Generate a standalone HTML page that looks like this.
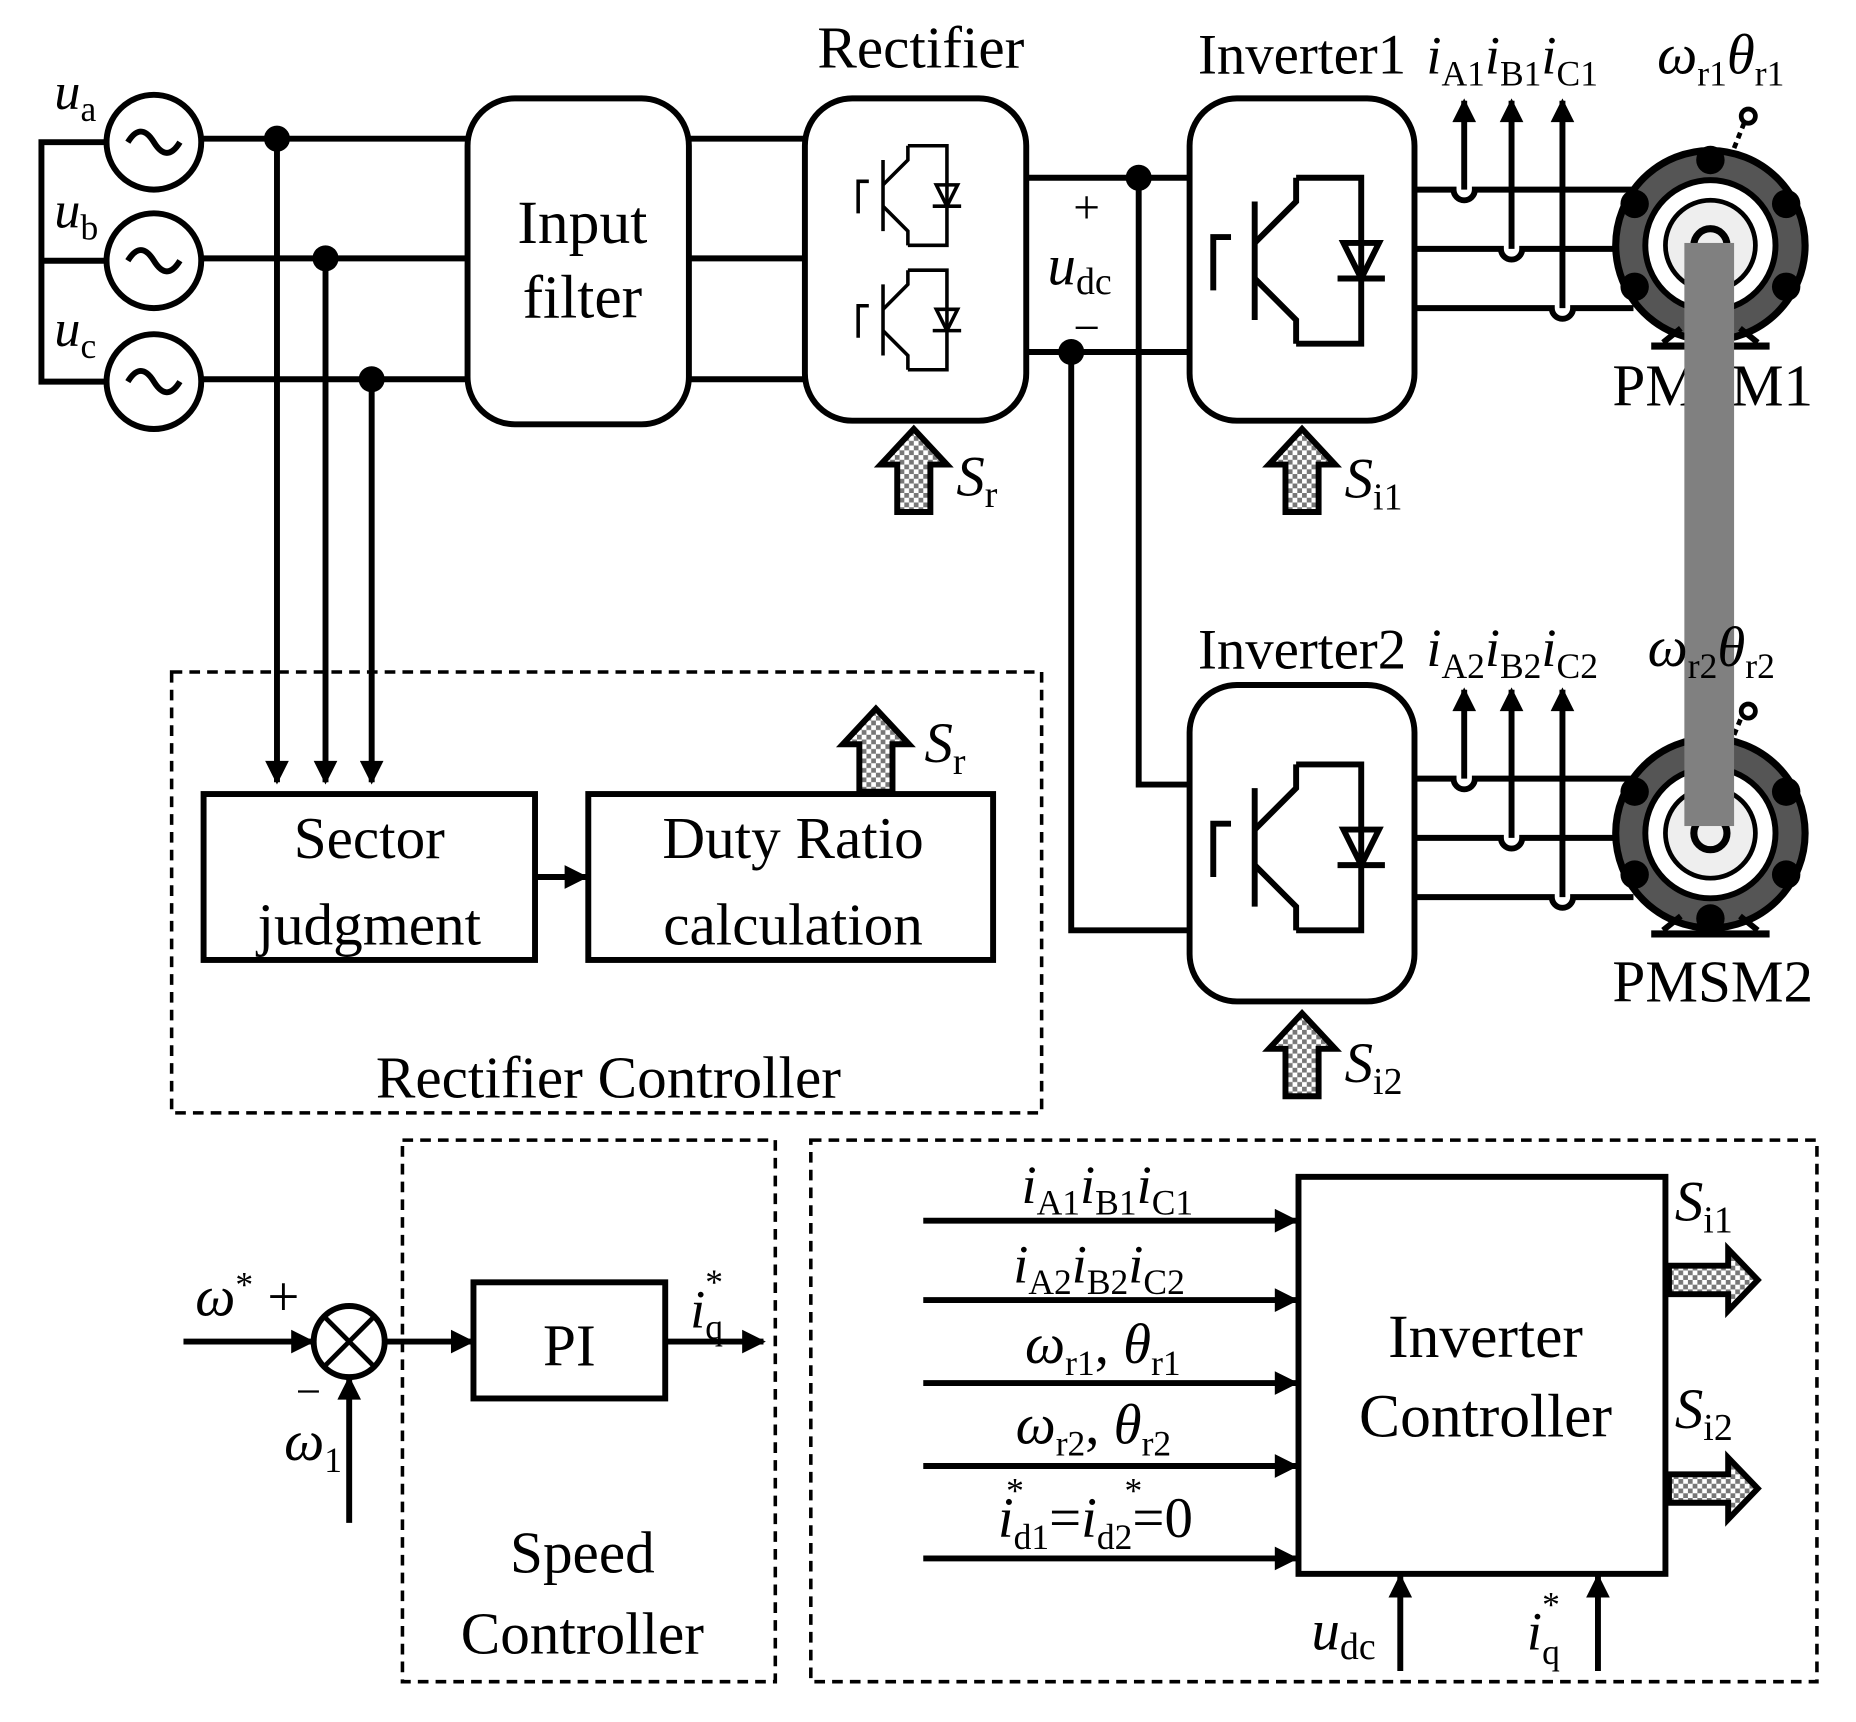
<!DOCTYPE html>
<html><head><meta charset="utf-8"><style>
html,body{margin:0;padding:0;background:#fff}
svg{display:block}
text{font-family:"Liberation Serif",serif;fill:#000}
.i{font-style:italic}
</style></head><body>
<svg width="1856" height="1722" viewBox="0 0 1568 1453" preserveAspectRatio="none" xmlns="http://www.w3.org/2000/svg">
<defs>
<pattern id="ck" width="8" height="8" patternUnits="userSpaceOnUse">
<rect width="8" height="8" fill="#fff"/><rect width="4" height="4" fill="#777"/><rect x="4" y="4" width="4" height="4" fill="#777"/>
</pattern>
<marker id="a2" viewBox="0 0 10 10" refX="9" refY="5" markerWidth="24" markerHeight="20" markerUnits="userSpaceOnUse" orient="auto">
<path d="M0,0 L10,5 L0,10 z" fill="#000"/></marker>
<g id="upck"><path d="M-14,0 L-14,-40 L-28,-40 L0,-70 L28,-40 L14,-40 L14,0 Z" fill="url(#ck)" stroke="#000" stroke-width="5"/></g>
<g id="rtck"><path d="M0,-12 L50,-12 L50,-26 L75,0 L50,26 L50,12 L0,12 Z" fill="url(#ck)" stroke="#000" stroke-width="5"/></g>
<g id="igbt" stroke="#000" stroke-width="5" fill="none">
<path d="M-40,-50 L-40,50"/><path d="M-60,-20 L-75,-20 L-75,25"/>
<path d="M-40,-15 L-5,-50 L-5,-70 M-40,15 L-5,50 L-5,70"/>
<path d="M-5,-70 L50,-70 L50,70 L-5,70"/>
<path d="M30,15 L70,15 M35,-15 L65,-15 L50,15 Z"/>
</g>
<g id="motor">
<circle r="80" fill="#555" stroke="#000" stroke-width="6"/>
<circle r="55" fill="#fff" stroke="#000" stroke-width="5"/>
<circle r="38" fill="#eee" stroke="#000" stroke-width="4"/>
<circle r="14" fill="none" stroke="#000" stroke-width="6"/>
<circle cx="0" cy="-72" r="12"/><circle cx="0" cy="72" r="12"/>
<circle cx="-64" cy="-35" r="12"/><circle cx="64" cy="-35" r="12"/>
<circle cx="-64" cy="35" r="12"/><circle cx="64" cy="35" r="12"/>
<path d="M-50,85 L50,85" stroke="#000" stroke-width="6"/>
<path d="M-40,82 L-25,70 M40,82 L25,70" stroke="#000" stroke-width="5"/>
</g>
</defs>

<g stroke="#000" stroke-width="5" fill="none">
<path d="M90,120 L35,120 L35,322 L90,322 M35,220 L90,220"/>
<circle cx="130" cy="120" r="40"/><circle cx="130" cy="220" r="40"/><circle cx="130" cy="322" r="40"/>
<path d="M108,120 q11,-18 22,0 t22,0 M108,220 q11,-18 22,0 t22,0 M108,322 q11,-18 22,0 t22,0"/>
<path d="M170,117 L395,117 M170,218 L395,218 M170,320 L395,320"/>
<path d="M234,117 L234,660" marker-end="url(#a2)"/>
<path d="M275,218 L275,660" marker-end="url(#a2)"/>
<path d="M314,320 L314,660" marker-end="url(#a2)"/>
<rect x="395" y="83" width="187" height="275" rx="40"/>
<path d="M582,117 L680,117 M582,218 L680,218 M582,320 L680,320"/>
<rect x="680" y="83" width="187" height="272" rx="40"/>
<path d="M867,150 L1005,150 M867,297 L1005,297"/>
<path d="M962,150 L962,662 L1005,662 M905,297 L905,785 L1005,785"/>
<rect x="1005" y="83" width="190" height="272" rx="40"/>
<rect x="1005" y="578" width="190" height="267" rx="40"/>
<path d="M1195,160 L1228,160 a9,9 0 0 0 18,0 L1380,160 M1195,210 L1268,210 a9,9 0 0 0 18,0 L1380,210 M1195,260 L1311,260 a9,9 0 0 0 18,0 L1380,260"/>
<path d="M1237,160 L1237,85" marker-end="url(#a2)"/>
<path d="M1277,210 L1277,85" marker-end="url(#a2)"/>
<path d="M1320,260 L1320,85" marker-end="url(#a2)"/>
<path d="M1195,657 L1228,657 a9,9 0 0 0 18,0 L1380,657 M1195,707 L1268,707 a9,9 0 0 0 18,0 L1380,707 M1195,757 L1311,757 a9,9 0 0 0 18,0 L1380,757"/>
<path d="M1237,657 L1237,582" marker-end="url(#a2)"/>
<path d="M1277,707 L1277,582" marker-end="url(#a2)"/>
<path d="M1320,757 L1320,582" marker-end="url(#a2)"/>
</g>
<g fill="#000"><circle cx="234" cy="117" r="11"/><circle cx="275" cy="218" r="11"/><circle cx="314" cy="320" r="11"/><circle cx="962" cy="150" r="11"/><circle cx="905" cy="297" r="11"/></g>
<use href="#igbt" transform="translate(770,165) scale(0.6)"/>
<use href="#igbt" transform="translate(770,270) scale(0.6)"/>
<use href="#igbt" transform="translate(1100,220)"/>
<use href="#igbt" transform="translate(1100,715)"/>
<use href="#motor" transform="translate(1445,207)"/>
<use href="#motor" transform="translate(1445,703)"/>
<path d="M1465,125 L1475,100 M1465,620 L1475,596" stroke="#000" stroke-width="4" stroke-dasharray="5,4"/>
<circle cx="1477" cy="98" r="6" fill="#fff" stroke="#000" stroke-width="4"/>
<circle cx="1477" cy="600" r="6" fill="#fff" stroke="#000" stroke-width="4"/>
<text x="1447" y="342" font-size="50" text-anchor="middle">PMSM1</text>
<text x="1447" y="845" font-size="50" text-anchor="middle">PMSM2</text>
<rect x="1423" y="205" width="42" height="492" fill="#808080"/>

<use href="#upck" transform="translate(772,432)"/>
<use href="#upck" transform="translate(1100,432)"/>
<use href="#upck" transform="translate(1100,925)"/>
<use href="#upck" transform="translate(740,668)"/>
<use href="#rtck" transform="translate(1410,1080)"/>
<use href="#rtck" transform="translate(1410,1256)"/>

<text x="46" y="92" font-size="44" class="i">u<tspan font-size="30" dy="10" font-style="normal">a</tspan></text>
<text x="46" y="192" font-size="44" class="i">u<tspan font-size="30" dy="10" font-style="normal">b</tspan></text>
<text x="46" y="292" font-size="44" class="i">u<tspan font-size="30" dy="10" font-style="normal">c</tspan></text>
<text x="492" y="205" font-size="52" text-anchor="middle">Input</text>
<text x="492" y="268" font-size="52" text-anchor="middle">filter</text>
<text x="778" y="57" font-size="50" text-anchor="middle">Rectifier</text>
<text x="1100" y="62" font-size="48" text-anchor="middle">Inverter1</text>
<text x="1100" y="564" font-size="48" text-anchor="middle">Inverter2</text>
<text x="918" y="188" font-size="40" text-anchor="middle">+</text>
<text x="885" y="240" font-size="48" class="i">u<tspan font-size="32" dy="8" font-style="normal">dc</tspan></text>
<text x="918" y="290" font-size="40" text-anchor="middle">−</text>
<text x="808" y="418" font-size="48" class="i">S<tspan font-size="32" dy="10" font-style="normal">r</tspan></text>
<text x="1136" y="420" font-size="48" class="i">S<tspan font-size="32" dy="10" font-style="normal">i1</tspan></text>
<text x="1136" y="913" font-size="48" class="i">S<tspan font-size="32" dy="10" font-style="normal">i2</tspan></text>
<text x="1205" y="62" font-size="46" class="i">i<tspan font-size="30" dy="10" font-style="normal">A1</tspan><tspan dy="-10">i</tspan><tspan font-size="30" dy="10" font-style="normal">B1</tspan><tspan dy="-10">i</tspan><tspan font-size="30" dy="10" font-style="normal">C1</tspan></text>
<text x="1205" y="562" font-size="46" class="i">i<tspan font-size="30" dy="10" font-style="normal">A2</tspan><tspan dy="-10">i</tspan><tspan font-size="30" dy="10" font-style="normal">B2</tspan><tspan dy="-10">i</tspan><tspan font-size="30" dy="10" font-style="normal">C2</tspan></text>
<text x="1400" y="62" font-size="48" class="i">ω<tspan font-size="30" dy="10" font-style="normal">r1</tspan><tspan dy="-10">θ</tspan><tspan font-size="30" dy="10" font-style="normal">r1</tspan></text>
<text x="1392" y="562" font-size="48" class="i">ω<tspan font-size="30" dy="10" font-style="normal">r2</tspan><tspan dy="-10">θ</tspan><tspan font-size="30" dy="10" font-style="normal">r2</tspan></text>

<g stroke="#000" stroke-width="3" fill="none" stroke-dasharray="9,6">
<rect x="145" y="567" width="735" height="372"/>
<rect x="340" y="962" width="315" height="457"/>
<rect x="685" y="962" width="850" height="457"/>
</g>
<g stroke="#000" stroke-width="5" fill="none">
<rect x="172" y="670" width="280" height="140"/>
<rect x="497" y="670" width="342" height="140"/>
<path d="M452,740 L495,740" marker-end="url(#a2)"/>
<rect x="400" y="1082" width="162" height="98"/>
<circle cx="295" cy="1132" r="30"/>
<path d="M274,1111 L316,1153 M316,1111 L274,1153" stroke-width="4"/>
<path d="M155,1132 L264,1132" marker-end="url(#a2)"/>
<path d="M325,1132 L399,1132" marker-end="url(#a2)"/>
<path d="M562,1132 L645,1132" marker-end="url(#a2)"/>
<path d="M295,1285 L295,1163" marker-end="url(#a2)"/>
<rect x="1097" y="993" width="310" height="335"/>
<path d="M780,1030 L1095,1030" marker-end="url(#a2)"/>
<path d="M780,1097 L1095,1097" marker-end="url(#a2)"/>
<path d="M780,1167 L1095,1167" marker-end="url(#a2)"/>
<path d="M780,1237 L1095,1237" marker-end="url(#a2)"/>
<path d="M780,1315 L1095,1315" marker-end="url(#a2)"/>
<path d="M1183,1410 L1183,1330" marker-end="url(#a2)"/>
<path d="M1350,1410 L1350,1330" marker-end="url(#a2)"/>
</g>
<text x="312" y="724" font-size="50" text-anchor="middle">Sector</text>
<text x="312" y="797" font-size="50" text-anchor="middle">judgment</text>
<text x="670" y="724" font-size="50" text-anchor="middle">Duty Ratio</text>
<text x="670" y="797" font-size="50" text-anchor="middle">calculation</text>
<text x="514" y="926" font-size="50" text-anchor="middle">Rectifier Controller</text>
<text x="781" y="643" font-size="48" class="i">S<tspan font-size="32" dy="10" font-style="normal">r</tspan></text>
<text x="481" y="1152" font-size="50" text-anchor="middle">PI</text>
<text x="492" y="1327" font-size="50" text-anchor="middle">Speed</text>
<text x="492" y="1395" font-size="50" text-anchor="middle">Controller</text>
<text x="165" y="1110" font-size="48" class="i">ω<tspan font-size="30" dy="-16" font-style="normal">*</tspan><tspan dy="16" font-style="normal"> +</tspan></text>
<text x="250" y="1187" font-size="38">−</text>
<text x="240" y="1232" font-size="48" class="i">ω<tspan font-size="30" dy="10" font-style="normal">1</tspan></text>
<text x="583" y="1120" font-size="46" class="i">i<tspan font-size="30" dy="10" font-style="normal">q</tspan><tspan font-size="30" dx="-15" dy="-38" font-style="normal">*</tspan></text>
<text x="1255" y="1145" font-size="52" text-anchor="middle">Inverter</text>
<text x="1255" y="1212" font-size="52" text-anchor="middle">Controller</text>
<text x="863" y="1015" font-size="46" class="i">i<tspan font-size="30" dy="10" font-style="normal">A1</tspan><tspan dy="-10">i</tspan><tspan font-size="30" dy="10" font-style="normal">B1</tspan><tspan dy="-10">i</tspan><tspan font-size="30" dy="10" font-style="normal">C1</tspan></text>
<text x="856" y="1082" font-size="46" class="i">i<tspan font-size="30" dy="10" font-style="normal">A2</tspan><tspan dy="-10">i</tspan><tspan font-size="30" dy="10" font-style="normal">B2</tspan><tspan dy="-10">i</tspan><tspan font-size="30" dy="10" font-style="normal">C2</tspan></text>
<text x="866" y="1150" font-size="48" class="i">ω<tspan font-size="30" dy="10" font-style="normal">r1</tspan><tspan dy="-10" font-style="normal">, </tspan>θ<tspan font-size="30" dy="10" font-style="normal">r1</tspan></text>
<text x="858" y="1218" font-size="48" class="i">ω<tspan font-size="30" dy="10" font-style="normal">r2</tspan><tspan dy="-10" font-style="normal">, </tspan>θ<tspan font-size="30" dy="10" font-style="normal">r2</tspan></text>
<text x="843" y="1297" font-size="48" class="i">i<tspan font-size="30" dy="10" font-style="normal">d1</tspan><tspan dy="-10" font-style="normal">=</tspan>i<tspan font-size="30" dy="10" font-style="normal">d2</tspan><tspan dy="-10" font-style="normal">=0</tspan></text>
<text x="850" y="1268" font-size="30">*</text><text x="950" y="1268" font-size="30">*</text>
<text x="1415" y="1030" font-size="48" class="i">S<tspan font-size="32" dy="10" font-style="normal">i1</tspan></text>
<text x="1415" y="1205" font-size="48" class="i">S<tspan font-size="32" dy="10" font-style="normal">i2</tspan></text>
<text x="1108" y="1392" font-size="48" class="i">u<tspan font-size="32" dy="8" font-style="normal">dc</tspan></text>
<text x="1290" y="1392" font-size="46" class="i">i<tspan font-size="30" dy="12" font-style="normal">q</tspan><tspan font-size="30" dx="-15" dy="-40" font-style="normal">*</tspan></text>
</svg>
</body></html>
